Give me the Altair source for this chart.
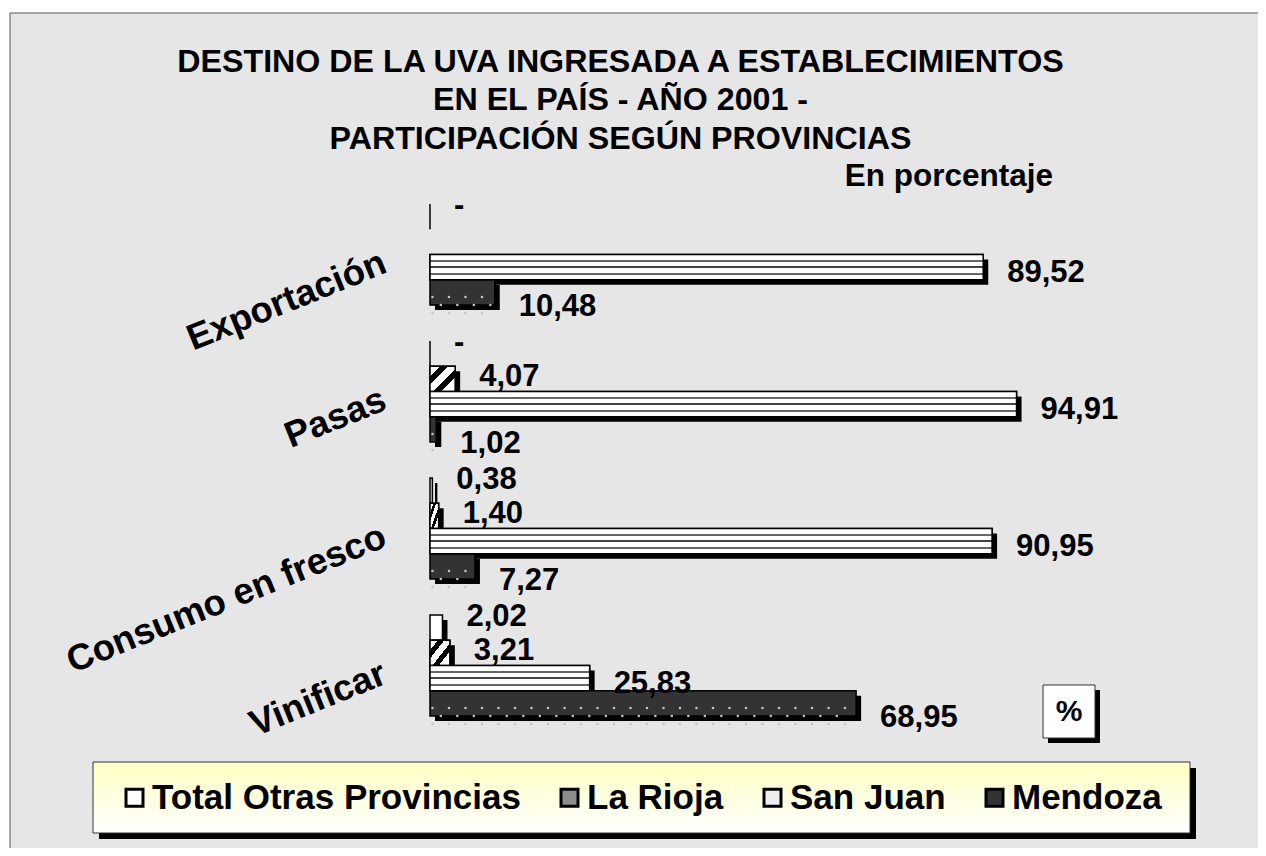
import altair as alt
import pandas as pd

# ---------------- data ----------------
categories = ["Exportación", "Pasas", "Consumo en fresco", "Vinificar"]
series = ["Total Otras Provincias", "La Rioja", "San Juan", "Mendoza"]
otras = [0.0, 0.0, 0.38, 2.02]
la_rioja = [None, 4.07, 1.40, 3.21]
san_juan = [89.52, 94.91, 90.95, 25.83]
mendoza = [10.48, 1.02, 7.27, 68.95]
title_lines = ["DESTINO DE LA UVA INGRESADA A ESTABLECIMIENTOS",
               "EN EL PAÍS - AÑO 2001 -",
               "PARTICIPACIÓN SEGÚN PROVINCIAS"]
subtitle = "En porcentaje"
unit_box = "%"

rows = []
for i, c in enumerate(categories):
    for s, vals in zip(series, [otras, la_rioja, san_juan, mendoza]):
        v = vals[i]
        if v is None:
            continue
        lab = "-" if v == 0 else f"{v:.2f}".replace(".", ",")
        rows.append({"cat": c, "series": s, "value": v, "label": lab})
df = pd.DataFrame(rows)
one = pd.DataFrame({"a": [1]})

FONT = "Liberation Sans"
W, H = 618, 512
PI = 0.263
BW = H / (4 - PI) * (1 - PI)

y_enc = alt.Y(
    "cat:N", sort=categories,
    scale=alt.Scale(domain=categories, paddingInner=PI, paddingOuter=0),
    axis=alt.Axis(title=None, domain=False, ticks=False, tickSize=0, grid=False, zindex=1,
                  labelAngle=338, labelAlign="right", labelBaseline="middle",
                  labelPadding=46, labelOffset=7, labelFont=FONT, labelFontSize=36.5,
                  labelFontWeight="bold", labelColor="black", labelLimit=1000,
                  labelOverlap=False),
)


def yoff(shift=0):
    return alt.YOffset("series:N", sort=series,
                       scale=alt.Scale(domain=series, range=[shift, BW + shift],
                                       paddingInner=0, paddingOuter=0))


x_scale = alt.Scale(domain=[0, 100])
x_enc = alt.X("value:Q", scale=x_scale, axis=None)

hatch = alt.Gradient(
    gradient="linear", x1=0, y1=0, x2=1, y2=1,
    stops=[alt.GradientStop(color="white", offset=0), alt.GradientStop(color="white", offset=0.2),
           alt.GradientStop(color="black", offset=0.2), alt.GradientStop(color="black", offset=0.36),
           alt.GradientStop(color="white", offset=0.36), alt.GradientStop(color="white", offset=0.56),
           alt.GradientStop(color="black", offset=0.56), alt.GradientStop(color="black", offset=0.72),
           alt.GradientStop(color="white", offset=0.72), alt.GradientStop(color="white", offset=1)])

stripes = alt.Gradient(
    gradient="linear", x1=0, y1=0, x2=0, y2=1,
    stops=[alt.GradientStop(color="white", offset=0), alt.GradientStop(color="white", offset=0.22),
           alt.GradientStop(color="#666666", offset=0.22), alt.GradientStop(color="#666666", offset=0.3),
           alt.GradientStop(color="white", offset=0.3), alt.GradientStop(color="white", offset=0.47),
           alt.GradientStop(color="#444444", offset=0.47), alt.GradientStop(color="#444444", offset=0.55),
           alt.GradientStop(color="white", offset=0.55), alt.GradientStop(color="white", offset=0.72),
           alt.GradientStop(color="#666666", offset=0.72), alt.GradientStop(color="#666666", offset=0.8),
           alt.GradientStop(color="white", offset=0.8), alt.GradientStop(color="white", offset=1)])

yellow = alt.Gradient(
    gradient="linear", x1=0, y1=0, x2=0, y2=1,
    stops=[alt.GradientStop(color="#ffffc4", offset=0), alt.GradientStop(color="#ffffff", offset=1)])

# ---------------- decorations ----------------
frame = alt.Chart(one).mark_rect(fill="#e6e6e6", stroke="#555555", strokeWidth=1).encode(
    x=alt.value(-420), x2=alt.value(830), y=alt.value(-191), y2=alt.value(650))
title_text = alt.Chart(one).mark_text(text=title_lines, font=FONT, fontSize=32.2, fontWeight="bold",
                                      color="black", align="center", baseline="middle",
                                      lineHeight=38.5).encode(
    x=alt.value(190.5), y=alt.value(-142.5))
leg_shadow = alt.Chart(one).mark_rect(fill="black").encode(
    x=alt.value(-331), x2=alt.value(766), y=alt.value(564), y2=alt.value(635))
leg_box = alt.Chart(one).mark_rect(fill=yellow, stroke="#333333", strokeWidth=1).encode(
    x=alt.value(-337), x2=alt.value(760), y=alt.value(558), y2=alt.value(629))
pct_shadow = alt.Chart(one).mark_rect(fill="black").encode(
    x=alt.value(618), x2=alt.value(670), y=alt.value(486), y2=alt.value(539))
pct_box = alt.Chart(one).mark_rect(fill="white", stroke="#333333", strokeWidth=1).encode(
    x=alt.value(613), x2=alt.value(665), y=alt.value(481), y2=alt.value(534))
pct_text = alt.Chart(one).mark_text(text=unit_box, font=FONT, fontSize=30, fontWeight="bold",
                                    color="black", align="center", baseline="middle").encode(
    x=alt.value(639), y=alt.value(508))
sub_text = alt.Chart(one).mark_text(text=subtitle, font=FONT, fontSize=31.5, fontWeight="bold",
                                    color="black", align="right", baseline="middle").encode(
    x=alt.value(623), y=alt.value(-27))

# ---------------- bars ----------------
shadow = alt.Chart(df).transform_filter("datum.value > 0").mark_bar(
    color="black", xOffset=5, x2Offset=5).encode(y=y_enc, yOffset=yoff(5), x=x_enc)

bars = alt.Chart(df).mark_bar(stroke="black", strokeWidth=1.5).encode(
    y=y_enc, yOffset=yoff(0), x=x_enc,
    color=alt.Color("series:N", sort=series,
                    scale=alt.Scale(domain=series, range=["white", "#8c8c8c", "#eeeeee", "#333333"]),
                    legend=alt.Legend(title=None, orient="none", legendX=-313, legendY=576,
                                      direction="horizontal", columns=4, padding=0,
                                      labelFont=FONT, labelFontSize=35, labelFontWeight="bold",
                                      labelColor="black", labelLimit=800, labelOffset=0,
                                      columnPadding=31, symbolType="square", symbolSize=289,
                                      symbolStrokeColor="black", symbolStrokeWidth=3,
                                      labelBaseline="middle")),
)

hatch_bars = alt.Chart(df).transform_filter("datum.series == 'La Rioja' && datum.value > 0").mark_bar(
    fill=hatch, stroke="black", strokeWidth=1.5).encode(y=y_enc, yOffset=yoff(0), x=x_enc)

stripe_bars = alt.Chart(df).transform_filter("datum.series == 'San Juan'").mark_bar(
    fill=stripes, stroke="black", strokeWidth=1.5).encode(y=y_enc, yOffset=yoff(0), x=x_enc)

dots = []
for shift, start in [(-8, 0.4), (0, 1.75), (8, 0.4)]:
    dots.append(
        alt.Chart(df).transform_filter("datum.series == 'Mendoza'")
        .transform_calculate(dotx=f"sequence({start}, datum.value - 0.6, 2.67)")
        .transform_flatten(["dotx"])
        .mark_square(size=5, color="#c4c4c4", opacity=1)
        .encode(y=y_enc, yOffset=yoff(shift), x=alt.X("dotx:Q", scale=x_scale, axis=None))
    )

labels = alt.Chart(df).mark_text(align="left", baseline="middle", dx=24, dy=2, font=FONT,
                                 fontSize=31, fontWeight="bold", color="black").encode(
    y=y_enc, yOffset=yoff(0), x=x_enc, text="label:N")

chart = alt.layer(
    frame, title_text, leg_shadow, leg_box, shadow, bars, hatch_bars, stripe_bars, *dots, labels,
    pct_shadow, pct_box, pct_text, sub_text,
).resolve_scale(yOffset="independent").properties(
    width=W, height=H,
    autosize=alt.AutoSizeParams(type="none"),
    padding={"left": 422, "top": 196, "right": 210, "bottom": 132},
    background="white",
).configure_view(stroke="transparent")

chart.save("out.html", embed_options={"renderer": "svg", "actions": False})
